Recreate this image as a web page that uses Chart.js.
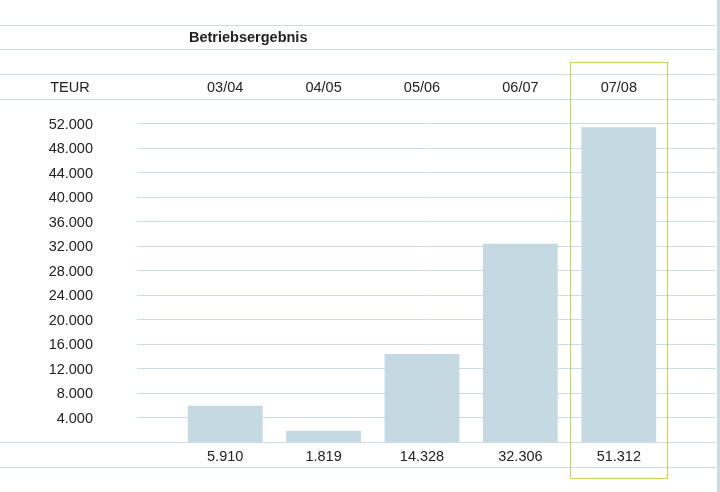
<!DOCTYPE html>
<html>
<head>
<meta charset="utf-8">
<script src="https://cdn.jsdelivr.net/npm/chart.js@4.4.0/dist/chart.umd.min.js"></script>
<style>
  body { margin: 0; background: #fff; }
  #wrap { width: 720px; height: 492px; }
</style>
</head>
<body>
<div id="wrap"><canvas id="chart" width="720" height="492"></canvas></div>
<script>
// data
const title = 'Betriebsergebnis';
const unit = 'TEUR';
const periods = ['03/04', '04/05', '05/06', '06/07', '07/08'];
const values = [5910, 1819, 14328, 32306, 51312];
const yTicks = [4000, 8000, 12000, 16000, 20000, 24000, 28000, 32000, 36000, 40000, 44000, 48000, 52000];

const lineColor = '#cbdde2';
const textColor = '#222';
const font = '14.5px "Liberation Sans", Arial, sans-serif';

const fmt = v => String(v).replace(/\B(?=(\d{3})+(?!\d))/g, '.');

// table rules, gridlines and texts
const tablePlugin = {
    id: 'table',
    beforeDatasetsDraw(chart) {
        const ctx = chart.ctx;
        const y = chart.scales.y;
        ctx.save();
        ctx.strokeStyle = lineColor;
        ctx.lineWidth = 1;
        // full width rows
        [25, 49, 74, 99].forEach(py => {
            ctx.beginPath();
            ctx.moveTo(0, py + 0.5);
            ctx.lineTo(716, py + 0.5);
            ctx.stroke();
        });
        const zero = Math.round(y.getPixelForValue(0));
        [zero, zero + 25].forEach(py => {
            ctx.beginPath();
            ctx.moveTo(0, py + 0.5);
            ctx.lineTo(716, py + 0.5);
            ctx.stroke();
        });
        // gridlines
        yTicks.forEach(t => {
            const py = Math.round(y.getPixelForValue(t));
            ctx.beginPath();
            ctx.moveTo(137, py + 0.5);
            ctx.lineTo(716, py + 0.5);
            ctx.stroke();
        });
        // right edge
        ctx.fillStyle = '#c9dce2';
        ctx.fillRect(717, 0, 3, 492);
        ctx.restore();
    },
    afterDraw(chart) {
        const ctx = chart.ctx;
        const x = chart.scales.x;
        const y = chart.scales.y;
        const zero = y.getPixelForValue(0);
        ctx.save();
        ctx.fillStyle = textColor;
        ctx.textBaseline = 'middle';

        ctx.font = 'bold ' + font;
        ctx.textAlign = 'left';
        ctx.fillText(title, 189, 38);

        ctx.font = font;
        ctx.textAlign = 'center';
        ctx.fillText(unit, 70, 88);
        periods.forEach((p, i) => {
            const cx = x.getPixelForValue(i);
            ctx.fillText(p, cx, 88);
            ctx.fillText(fmt(values[i]), cx, zero + 15);
        });

        ctx.textAlign = 'right';
        yTicks.forEach(t => {
            ctx.fillText(fmt(t), 93, y.getPixelForValue(t) + 1.5);
        });

        // highlight box round the last period
        const step = (x.right - x.left) / periods.length;
        const last = x.getPixelForValue(periods.length - 1);
        ctx.strokeStyle = '#c3d05c';
        ctx.lineWidth = 1;
        ctx.strokeRect(Math.round(last - step / 2) + 0.5, 62.5, Math.round(step) - 1, 416);
        ctx.restore();
    }
};

new Chart(document.getElementById('chart'), {
    type: 'bar',
    data: {
        labels: periods,
        datasets: [{
            data: values,
            backgroundColor: '#c5d9e3',
            borderWidth: 0,
            barPercentage: 0.76,
            categoryPercentage: 1
        }]
    },
    options: {
        responsive: false,
        animation: false,
        layout: { padding: { left: 176, right: 52, top: 123, bottom: 50 } },
        plugins: { legend: { display: false }, tooltip: { enabled: false } },
        scales: {
            x: { display: false },
            y: { display: false, min: 0, max: 52000 }
        }
    },
    plugins: [tablePlugin]
});
</script>
</body>
</html>
